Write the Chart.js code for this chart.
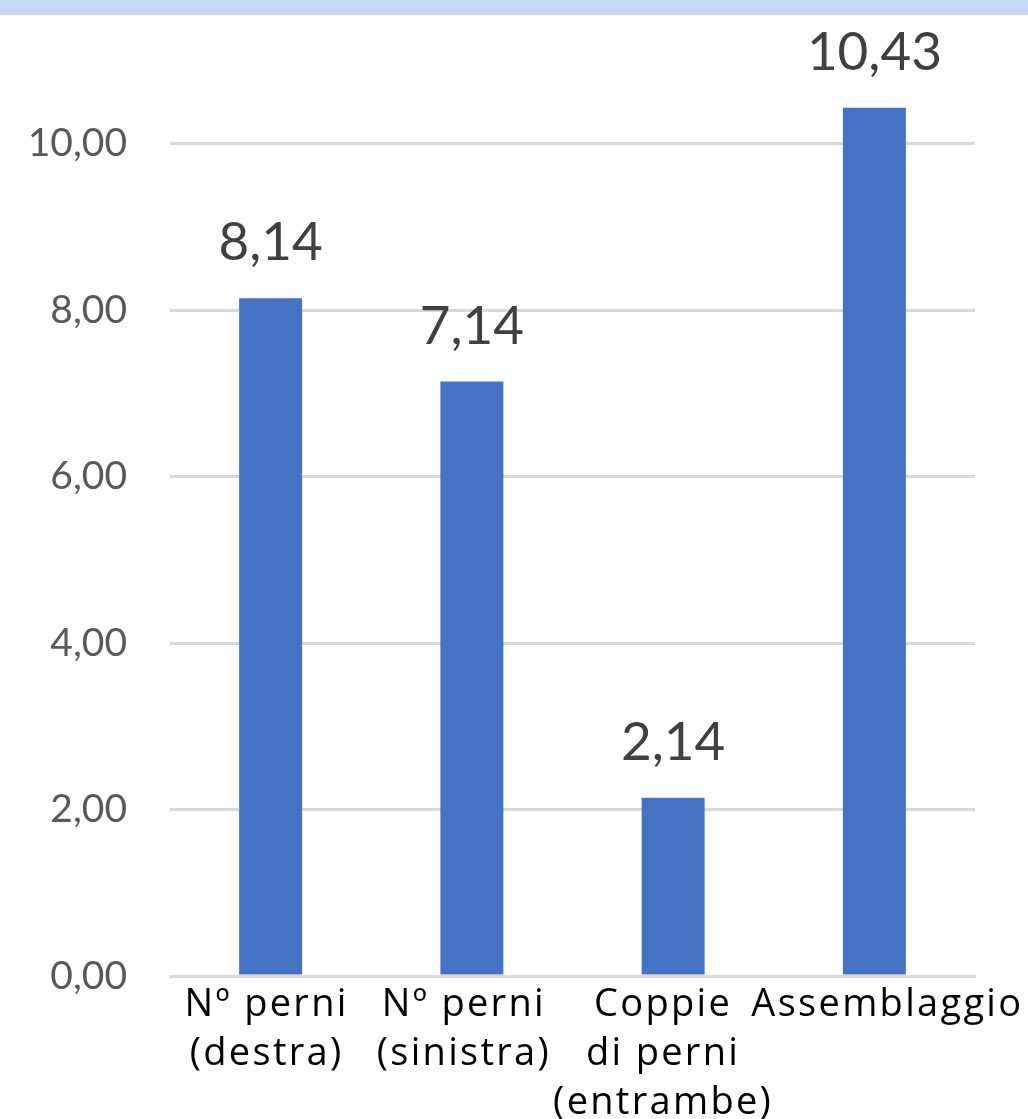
<!DOCTYPE html>
<html>
<head>
<meta charset="utf-8">
<script src="https://cdn.jsdelivr.net/npm/chart.js@4/dist/chart.umd.min.js"></script>
<style>
  html, body { margin: 0; padding: 0; background: #ffffff; overflow: hidden; }
  body { width: 1028px; height: 1119px; position: relative; }
  #band { position: absolute; left: 0; top: 0; width: 1028px; height: 15px; background: #c5d9f8; z-index: 2; }
  #wrap { position: absolute; left: 0; top: -60px; width: 1028px; height: 1179px; }
</style>
</head>
<body>
<div id="band"></div>
<div id="wrap"><canvas id="chart"></canvas></div>
<script>
// Categories (multi-line labels) and average values per category
const categories = [
  ['N\u00BA perni', '(destra)'],
  ['N\u00BA perni', '(sinistra)'],
  ['Coppie', 'di perni', '(entrambe)'],
  ['Assemblaggio']
];
const values = [8.14, 7.14, 2.14, 10.43];
const yTicks = [0, 2, 4, 6, 8, 10, 12];

// Horizontal nudge (px) of each category label so neighbours don't touch
const labelNudge = [-4, -8, -10, 13];

const fmt = v => v.toFixed(2).replace('.', ',');

// Value labels above each bar
const valueLabels = {
  id: 'valueLabels',
  afterDatasetsDraw(chart) {
    const ctx = chart.ctx;
    const meta = chart.getDatasetMeta(0);
    ctx.save();
    ctx.font = '53px Lato';
    ctx.fillStyle = '#404040';
    ctx.textAlign = 'center';
    ctx.textBaseline = 'alphabetic';
    meta.data.forEach((bar, i) => {
      ctx.fillText(fmt(values[i]), bar.x, bar.y - 38);
    });
    ctx.restore();
  }
};

// Category labels: wider tracking (their layer is drawn after the datasets) and nudges
const categoryLabels = {
  id: 'categoryLabels',
  beforeDraw(chart) {
    chart.ctx.letterSpacing = '0px';
    const items = chart.scales.x.getLabelItems();
    if (!items._nudged) {
      items.forEach((it, i) => { it.options.translation[0] += labelNudge[i] || 0; });
      items._nudged = true;
    }
  },
  afterDatasetsDraw(chart) { chart.ctx.letterSpacing = '2.3px'; },
  afterDraw(chart) { chart.ctx.letterSpacing = '0px'; }
};

new Chart(document.getElementById('chart'), {
  type: 'bar',
  data: {
    labels: categories,
    datasets: [{
      data: values,
      backgroundColor: '#4472c4',
      borderWidth: 0,
      barPercentage: 0.313,
      categoryPercentage: 1
    }]
  },
  options: {
    responsive: true,
    maintainAspectRatio: false,
    animation: false,
    layout: { padding: { top: 37, right: 53, left: 0, bottom: 0 } },
    plugins: {
      legend: { display: false },
      tooltip: { enabled: false }
    },
    scales: {
      x: {
        grid: { display: false, drawTicks: false },
        border: { display: true, color: '#d9d9d9', width: 3 },
        ticks: {
          z: 1,
          color: '#000000',
          font: { family: '"Open Sans"', size: 38, lineHeight: 1.3 },
          padding: 4,
          maxRotation: 0,
          minRotation: 0,
          autoSkip: false
        },
        afterFit(scale) { scale.height = 143; }
      },
      y: {
        min: 0,
        max: 12,
        afterBuildTicks(scale) { scale.ticks = yTicks.map(v => ({ value: v })); },
        grid: { color: '#d9d9d9', lineWidth: 3, drawTicks: false },
        border: { display: false },
        ticks: {
          color: '#595959',
          font: { family: 'Lato', size: 39 },
          padding: 43,
          callback: v => fmt(v)
        },
        afterFit(scale) {
          scale.width = 170;
          scale.paddingTop = 0;
          scale.paddingBottom = 0;
        }
      }
    }
  },
  plugins: [valueLabels, categoryLabels]
});
</script>
</body>
</html>
